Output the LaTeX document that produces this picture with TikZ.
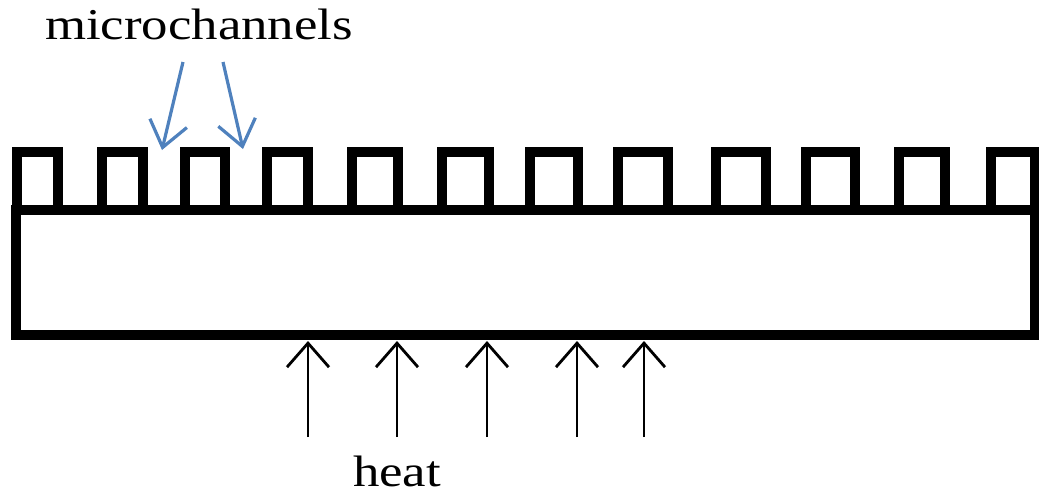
\documentclass[tikz,border=0pt]{standalone}
\usepackage{fontspec}
\usepackage{graphicx}
\setmainfont{Liberation Serif}
\usetikzlibrary{arrows.meta}
\definecolor{pointerblue}{RGB}{79,129,189}
\tikzset{
  wall/.style={line width=10pt, line join=miter},
  label text/.style={inner sep=0pt, anchor=base, font=\fontsize{44}{50}\selectfont},
  pointer/.style={draw=pointerblue, line width=3.2pt,
    -{Straight Barb[length=25pt, width=38pt, line width=3.2pt]}},
  heatflow/.style={draw=black, line width=2.8pt,
    -{Straight Barb[length=24pt, width=42pt, line width=2.8pt]}}
}
\begin{document}
\begin{tikzpicture}[x=1pt, y=-1pt]
  \useasboundingbox (0,0) rectangle (1039,496);

  % base plate of the heat sink
  \draw[wall] (16,210) rectangle (1035,335);

  % fins standing on the plate (left and right stroke centres)
  \foreach \l/\r in {17/58, 102/143, 185/225, 267/308, 352/398,
                     442/489, 530/578, 618/668, 716/766, 806/855,
                     899/945, 991/1035}
    \draw[wall] (\l,210) -- (\l,152) -- (\r,152) -- (\r,210);

  % labels
  \node[label text] (mc) at (199,39) {\scalebox{1.2}[1]{microchannels}};
  \node[label text] (heat) at (397,486) {\scalebox{1.2}[1]{heat}};

  % pointers to two of the channels
  \coordinate (p1s) at (183,62);  \coordinate (p1e) at (162,150);
  \coordinate (p2s) at (223,62);  \coordinate (p2e) at (243,149);
  \draw[pointer] (p1s) -- (p1e);
  \draw[pointer] (p2s) -- (p2e);

  % heat entering through the bottom of the plate
  \foreach \x [count=\i] in {308, 397, 487, 577, 644} {
    \coordinate (h\i s) at (\x,437);
    \coordinate (h\i e) at (\x,341);
    \draw[heatflow] (h\i s) -- (h\i e);
  }
\end{tikzpicture}
\end{document}
